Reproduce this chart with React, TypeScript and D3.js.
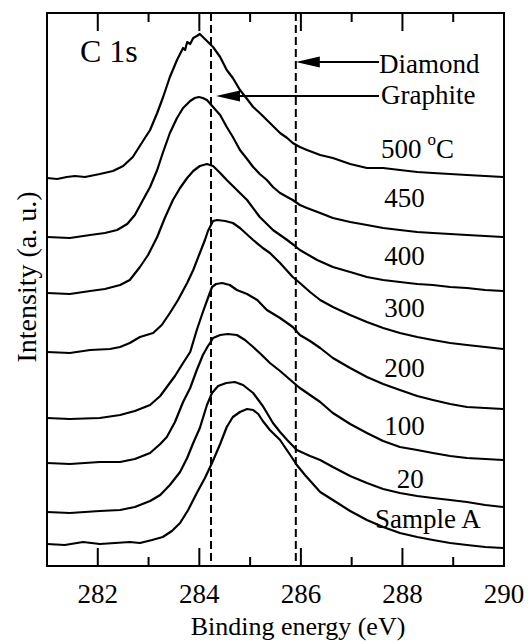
import React from "react";
import * as d3 from "d3";

// Binding energy (eV) vs intensity (a.u., offset stacked)
const s500: [number, number][] = [[281.00,38.8],[281.2,38.7],[281.39,38.9],[281.55,39.0],[281.75,38.9],[282.04,39.2],[282.30,39.5],[282.50,40.0],[282.69,40.9],[282.89,42.5],[283.03,43.6],[283.17,45.3],[283.28,46.8],[283.42,48.9],[283.56,50.6],[283.68,51.8],[283.72,51.6],[283.76,52.4],[283.82,52.2],[283.88,52.8],[283.95,53.0],[284.01,53.2],[284.07,52.9],[284.15,52.5],[284.27,51.9],[284.41,50.9],[284.54,49.6],[284.66,48.8],[284.80,47.6],[284.94,46.7],[285.06,45.9],[285.19,45.3],[285.33,44.6],[285.45,44.0],[285.59,43.3],[285.73,42.8],[285.84,42.3],[285.98,41.9],[286.12,41.6],[286.38,41.1],[286.63,40.8],[286.97,40.2],[287.30,39.8],[287.62,39.8],[287.95,39.6],[288.29,39.4],[288.60,39.3],[288.94,39.2],[289.27,39.1],[289.63,39.0],[289.98,38.9]];
const s450: [number, number][] = [[281.00,32.9],[281.45,32.8],[281.85,33.1],[282.14,33.3],[282.38,33.6],[282.58,34.2],[282.73,35.1],[282.89,36.6],[283.03,37.9],[283.17,39.6],[283.28,41.3],[283.42,43.3],[283.56,44.8],[283.68,45.8],[283.82,46.5],[283.91,46.8],[283.99,46.9],[284.07,46.8],[284.15,46.6],[284.27,45.9],[284.41,45.1],[284.54,43.9],[284.66,42.9],[284.80,41.6],[284.94,40.7],[285.06,39.9],[285.19,39.2],[285.33,38.6],[285.45,37.9],[285.59,37.3],[285.73,36.9],[285.84,36.6],[285.98,36.1],[286.12,35.8],[286.38,35.3],[286.63,34.8],[286.97,34.4],[287.30,34.1],[287.62,33.8],[287.95,33.6],[288.29,33.4],[288.60,33.3],[288.94,33.2],[289.27,33.1],[289.63,33.0],[289.98,32.9]];
const s400: [number, number][] = [[281.00,27.3],[281.45,27.2],[281.85,27.5],[282.14,27.7],[282.44,28.1],[282.63,28.6],[282.83,29.9],[282.99,31.1],[283.17,32.9],[283.32,34.8],[283.48,36.6],[283.62,37.8],[283.76,38.8],[283.88,39.5],[284.01,40.0],[284.15,40.2],[284.27,40.0],[284.41,39.3],[284.54,38.6],[284.74,37.6],[284.94,36.6],[285.19,34.9],[285.45,33.6],[285.73,32.6],[285.86,32.1],[285.98,31.6],[286.32,30.6],[286.63,29.9],[286.97,29.4],[287.30,28.9],[287.62,28.6],[287.95,28.4],[288.29,28.2],[288.60,28.1],[288.94,27.9],[289.27,27.8],[289.63,27.6],[289.98,27.5]];
const s300: [number, number][] = [[281.00,21.4],[281.45,21.3],[281.85,21.6],[282.24,21.7],[282.44,21.9],[282.63,22.3],[282.83,22.9],[283.09,23.3],[283.26,24.1],[283.42,25.3],[283.58,26.6],[283.76,28.3],[283.88,29.6],[284.01,31.3],[284.11,32.6],[284.17,33.5],[284.21,33.9],[284.27,34.5],[284.35,34.6],[284.51,34.5],[284.66,34.3],[284.80,33.8],[285.06,32.6],[285.25,31.8],[285.39,31.3],[285.59,30.3],[285.84,28.9],[285.98,28.3],[286.18,27.4],[286.38,26.6],[286.63,25.9],[286.97,25.1],[287.30,24.4],[287.62,23.8],[287.95,23.3],[288.29,22.9],[288.60,22.6],[288.94,22.3],[289.27,22.1],[289.63,21.9],[289.98,21.7]];
const s200: [number, number][] = [[281.00,14.8],[281.45,14.7],[282.04,14.8],[282.44,15.1],[282.73,15.5],[283.03,16.1],[283.23,17.0],[283.36,17.9],[283.52,19.0],[283.68,20.3],[283.82,21.4],[283.95,23.6],[284.07,25.4],[284.17,26.8],[284.25,27.9],[284.33,28.2],[284.45,28.3],[284.60,28.1],[284.74,27.6],[284.94,27.2],[285.14,26.6],[285.33,25.6],[285.59,24.8],[285.84,23.9],[285.98,23.1],[286.18,22.5],[286.38,21.8],[286.63,20.8],[286.97,19.8],[287.30,18.9],[287.62,18.2],[287.95,17.6],[288.29,17.0],[288.60,16.6],[288.94,16.2],[289.27,15.9],[289.63,15.8],[289.98,15.7]];
const s100: [number, number][] = [[281.00,10.3],[281.45,10.2],[282.04,10.4],[282.44,10.4],[282.73,10.7],[283.03,11.3],[283.23,12.2],[283.36,12.9],[283.52,14.4],[283.68,16.4],[283.82,17.8],[283.95,19.6],[284.07,21.1],[284.17,22.0],[284.21,22.3],[284.27,22.8],[284.41,23.1],[284.56,23.2],[284.74,23.1],[284.90,22.6],[285.06,21.9],[285.23,21.1],[285.39,20.3],[285.59,19.5],[285.84,18.4],[285.98,17.8],[286.18,17.1],[286.38,16.4],[286.63,15.3],[286.97,14.2],[287.30,13.3],[287.62,12.5],[287.95,11.9],[288.29,11.6],[288.60,11.3],[288.94,11.0],[289.27,10.8],[289.63,10.7],[289.98,10.6]];
const s20: [number, number][] = [[281.00,5.4],[281.45,5.3],[282.04,5.5],[282.44,5.6],[282.73,5.9],[283.03,6.5],[283.23,7.1],[283.42,8.1],[283.62,9.4],[283.76,10.8],[283.88,12.3],[284.01,13.8],[284.15,16.1],[284.25,17.3],[284.37,18.0],[284.53,18.3],[284.70,18.4],[284.86,18.1],[285.06,17.3],[285.25,16.0],[285.45,14.3],[285.59,13.4],[285.73,12.6],[285.92,11.6],[286.18,11.0],[286.38,10.6],[286.63,9.9],[286.97,9.0],[287.30,8.3],[287.62,7.7],[287.95,7.3],[288.29,7.0],[288.60,6.8],[288.94,6.6],[289.27,6.4],[289.63,6.1],[289.98,5.9]];
const sA: [number, number][] = [[281.00,2.2],[281.35,2.1],[281.71,2.4],[282.04,2.2],[282.34,2.3],[282.63,2.4],[282.83,2.3],[283.07,2.6],[283.28,2.9],[283.46,3.5],[283.62,4.3],[283.78,5.6],[283.95,7.3],[284.11,8.8],[284.25,10.3],[284.41,12.2],[284.54,13.9],[284.66,14.9],[284.80,15.4],[284.94,15.7],[285.06,15.6],[285.16,15.2],[285.25,14.5],[285.39,13.6],[285.59,12.6],[285.79,11.1],[285.92,10.1],[286.08,9.1],[286.38,7.4],[286.63,6.6],[286.97,5.5],[287.30,4.6],[287.62,3.9],[287.95,3.3],[288.29,2.9],[288.60,2.6],[288.94,2.3],[289.27,2.1],[289.63,1.9],[289.98,1.8]];

const seriesList = [s500, s450, s400, s300, s200, s100, s20, sA];
const seriesLabels = ["500", "450", "400", "300", "200", "100", "20", "Sample A"];
// label anchors (energy, intensity)
const labelAnchors: [number, number][] = [[287.58, 40.8], [287.64, 35.9], [287.64, 30.1], [287.64, 24.9], [287.64, 18.9], [287.64, 13.1], [287.89, 7.8], [287.46, 3.8]];

const xTicksMajor = [282, 284, 286, 288, 290];
const xTicksMinor = [281, 283, 285, 287, 289];
const refLines = [
  { energy: 284.23, name: "Graphite", arrowLevel: 47.0 },
  { energy: 285.9, name: "Diamond", arrowLevel: 50.4 },
];

const W = 529, H = 641;
const L = 47, R = 504, T = 13, B = 566;
const FONT = "'Liberation Serif', 'Times New Roman', 'DejaVu Serif', serif";
const ts = { fontFamily: FONT };

export default function App() {
  const x = d3.scaleLinear().domain([281, 290]).range([L, R]);
  const y = d3.scaleLinear().domain([0, 55.3]).range([B, T]);
  const line = d3.line<[number, number]>().x(d => x(d[0])).y(d => y(d[1])).curve(d3.curveLinear);

  const gx = x(refLines[0].energy);
  const dx = x(refLines[1].energy);
  const arrowG = y(refLines[0].arrowLevel);
  const arrowD = y(refLines[1].arrowLevel);
  const textX = 379;

  const head = (tipX: number, yy: number) =>
    `M${tipX},${yy} L${tipX + 24},${yy - 5.5} L${tipX + 24},${yy + 5.5} Z`;

  return (
    <svg width={W} height={H} style={{ position: "absolute", left: 0, top: 0, background: "#fff" }}>
      {refLines.map(r => (
        <line key={r.name} x1={x(r.energy)} x2={x(r.energy)} y1={T} y2={B} stroke="#000" strokeWidth={2} strokeDasharray="8,4" />
      ))}
      {seriesList.map((s, i) => (
        <path key={i} d={line(s) || ""} fill="none" stroke="#000" strokeWidth={2.2} strokeLinejoin="round" />
      ))}
      <rect x={L} y={T} width={R - L} height={B - T} fill="none" stroke="#000" strokeWidth={2} />
      {xTicksMajor.map(t => (
        <g key={"M" + t}>
          <line x1={x(t)} x2={x(t)} y1={B} y2={B - 18} stroke="#000" strokeWidth={2} />
          <line x1={x(t)} x2={x(t)} y1={T} y2={T + 18} stroke="#000" strokeWidth={2} />
          <text x={x(t)} y={603} textAnchor="middle" fontSize={27} style={ts}>{t}</text>
        </g>
      ))}
      {xTicksMinor.map(t => (
        <g key={"m" + t}>
          <line x1={x(t)} x2={x(t)} y1={B} y2={B - 9} stroke="#000" strokeWidth={2} />
          <line x1={x(t)} x2={x(t)} y1={T} y2={T + 9} stroke="#000" strokeWidth={2} />
        </g>
      ))}
      <text x={298} y={635} textAnchor="middle" fontSize={26} style={ts}>Binding energy (eV)</text>
      <text transform={`translate(36,277) rotate(-90)`} textAnchor="middle" fontSize={28} style={ts}>Intensity (a. u.)</text>
      <text x={80} y={62} fontSize={32} style={ts}>C 1s</text>
      <line x1={dx + 20} x2={textX} y1={arrowD} y2={arrowD} stroke="#000" strokeWidth={1.8} />
      <path d={head(dx, arrowD)} fill="#000" />
      <line x1={gx + 20} x2={textX} y1={arrowG} y2={arrowG} stroke="#000" strokeWidth={1.8} />
      <path d={head(gx + 5, arrowG)} fill="#000" />
      <text x={textX} y={73} fontSize={27} style={ts}>Diamond</text>
      <text x={textX + 2} y={104} fontSize={27} style={ts}>Graphite</text>
      {seriesLabels.map((lab, i) => (
        <text key={lab} x={x(labelAnchors[i][0])} y={y(labelAnchors[i][1])} fontSize={27} style={ts}>
          {lab}
          {i === 0 && (
            <>
              <tspan dx={6} dy={-13} fontSize={17}>o</tspan>
              <tspan dy={13} fontSize={27}>C</tspan>
            </>
          )}
        </text>
      ))}
    </svg>
  );
}
